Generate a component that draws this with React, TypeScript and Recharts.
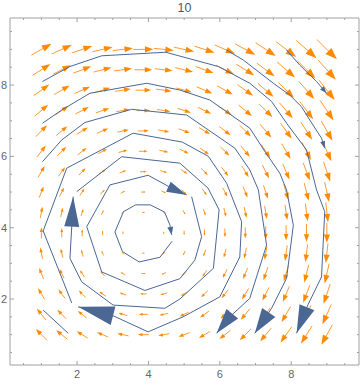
import React from 'react';
import { ComposedChart, XAxis, YAxis, Scatter, Line, ReferenceLine, ReferenceArea } from 'recharts';

const TITLE = '10';
const X_DOMAIN: [number, number] = [0.12, 9.9];
const Y_DOMAIN: [number, number] = [0.15, 9.88];
const MAJOR_TICKS = [2, 4, 6, 8];
const MINOR_TICKS = [0.5, 1, 1.5, 2.5, 3, 3.5, 4.5, 5, 5.5, 6.5, 7, 7.5, 8.5, 9, 9.5];

// vector field sample positions (same along x and y)
const GRID = [1, 1.571, 2.143, 2.714, 3.286, 3.857, 4.429, 5, 5.571, 6.143, 6.714, 7.286, 7.857, 8.429, 9];
// horizontal component of the arrows in each row (rows ordered by y)
const ROW_U = [-2.85, -2.28, -1.71, -1.14, -0.57, 0.01, 0.58, 1.15, 1.72, 2.29, 2.86, 3.43, 4.0, 4.58, 5.15];
// vertical component of the arrows in each column (columns ordered by x)
const COL_V = [2.9, 2.33, 1.76, 1.19, 0.62, 0.04, -0.53, -1.1, -1.67, -2.24, -2.81, -3.39, -3.96, -4.53, -5.1];

// stream lines [x, y]
const LOOP_1 = [[4.66, 3.62], [4.32, 3.17], [3.74, 3.04], [3.27, 3.33], [3.06, 3.88], [3.3, 4.45], [3.64, 4.64], [4.05, 4.64], [4.45, 4.44], [4.6, 4.08], [4.65, 3.8]];
const LOOP_2 = [[5.21, 4.87], [5.49, 3.75], [5.3, 3.09], [4.88, 2.57], [3.9, 2.24], [2.69, 2.76], [2.27, 4.03], [2.92, 5.2], [3.99, 5.47], [4.65, 5.11], [5.07, 4.92]];
const LOOP_3 = [[1.99, 5.01], [3.25, 5.99], [4.88, 5.81], [5.67, 5.11], [5.98, 4.5], [5.82, 2.86], [4.88, 2.0], [4.46, 1.74], [3.01, 1.83], [2.13, 2.48], [1.8, 3.14], [1.85, 4.03], [1.89, 4.87]];
const LOOP_4 = [[1.85, 1.89], [1.05, 3.91], [1.71, 5.67], [3.57, 6.65], [4.95, 6.4], [5.68, 6.0], [6.19, 5.25], [6.61, 4.17], [6.56, 3.18], [6.0, 2.06], [4.97, 1.5], [3.99, 1.08], [3.01, 1.53], [2.03, 1.78]];
const LINE_A3 = [[1.03, 5.85], [1.57, 6.46], [2.22, 6.95], [3.53, 7.32], [5.07, 7.16], [6.42, 6.23], [6.84, 5.62], [7.08, 5.06], [7.31, 3.51], [6.84, 2.02], [6.28, 1.5], [5.91, 1.04]];
const LINE_A2 = [[1.03, 6.93], [1.57, 7.3], [2.36, 7.77], [3.95, 8.05], [4.88, 7.86], [5.72, 7.58], [6.19, 7.25], [6.84, 6.79], [7.28, 6.11], [7.68, 5.53], [7.87, 5.06], [8.06, 4.07], [7.87, 2.58], [7.45, 1.74], [6.98, 1.04]];
const LINE_A1 = [[1.03, 8.1], [1.8, 8.52], [2.69, 8.82], [4.48, 8.92], [5.96, 8.52], [6.84, 8.05], [7.45, 7.54], [7.87, 6.93], [8.43, 6.18], [8.71, 5.06], [8.94, 4.45], [8.85, 2.62], [8.47, 1.84], [8.15, 1.04]];
const LINE_P = [[6.19, 8.98], [6.66, 8.7], [7.5, 8.05], [7.96, 7.72], [8.29, 7.39], [8.52, 7.02], [8.85, 6.51], [8.94, 6.23]];
const LINE_Q = [[7.87, 8.98], [8.24, 8.56], [8.71, 8.1], [8.99, 7.77]];
const LINE_S = [[1.75, 1.04], [1.05, 1.69]];

// styles
const BLUE = '#4b6794';
const ORANGE_HEAD = '#ff8a00';
const ORANGE_SHAFT = '#ff9a30';
const FRAME = '#a0a0a0';
const LABEL = '#666666';
const ARROW_SCALE = 3.9; // px per field unit
const PX_PER_UNIT = 35.7;

const STREAMS = [
  { id: 'l1', pts: LOOP_1, head: [8, 6] },
  { id: 'l2', pts: LOOP_2, head: [20, 11] },
  { id: 'l3', pts: LOOP_3, head: [30, 15] },
  { id: 'l4', pts: LOOP_4, head: [36, 19] },
  { id: 'a3', pts: LINE_A3, head: [25, 15] },
  { id: 'a2', pts: LINE_A2, head: [25, 16] },
  { id: 'a1', pts: LINE_A1, head: [28, 16] },
  { id: 'p', pts: LINE_P, head: [7, 5] },
  { id: 'q', pts: LINE_Q, head: [7, 5] },
  { id: 's', pts: LINE_S, head: [0, 0] },
];

const fieldData = GRID.flatMap((y, j) => GRID.map((x, i) => ({ x, y, u: ROW_U[j], v: COL_V[i] })));

const FieldArrow = (props: any) => {
  const { cx, cy, payload } = props;
  if (cx == null || cy == null || !payload) return <g />;
  const u = payload.u;
  const v = payload.v;
  const mag = Math.hypot(u, v);
  const L = mag * ARROW_SCALE;
  if (L < 0.6) return <g />;
  const ux = u / mag;
  const uy = -v / mag;
  const x0 = cx - (ux * L) / 2;
  const y0 = cy - (uy * L) / 2;
  const x1 = cx + (ux * L) / 2;
  const y1 = cy + (uy * L) / 2;
  const hl = L * 0.42;
  const hw = L * 0.15;
  const bx = x1 - ux * hl;
  const by = y1 - uy * hl;
  const nx = -uy;
  const ny = ux;
  return (
    <g>
      <line x1={x0} y1={y0} x2={bx + ux * 1} y2={by + uy * 1} stroke={ORANGE_SHAFT} strokeWidth={1} />
      <polygon points={`${x1},${y1} ${bx + nx * hw},${by + ny * hw} ${bx - nx * hw},${by - ny * hw}`} fill={ORANGE_HEAD} />
    </g>
  );
};

const makeHead = (pts: number[][], len: number, width: number) => (props: any) => {
  const { cx, cy, index } = props;
  const n = pts.length;
  if (index !== n - 1 || len === 0 || cx == null) return <g key={`d-${index}`} />;
  const [tx, ty] = pts[n - 1];
  const [px, py] = pts[n - 2];
  let dx = tx - px;
  let dy = -(ty - py);
  const m = Math.hypot(dx, dy) || 1;
  dx /= m;
  dy /= m;
  const bx = cx - dx * len;
  const by = cy - dy * len;
  const nx = -dy;
  const ny = dx;
  const hw = width / 2;
  return (
    <polygon
      key={`d-${index}`}
      points={`${cx},${cy} ${bx + nx * hw},${by + ny * hw} ${bx - nx * hw},${by - ny * hw}`}
      fill={BLUE}
    />
  );
};

const MAJOR_LEN = 4 / PX_PER_UNIT;
const MINOR_LEN = 2 / PX_PER_UNIT;

const tickSegments = () => {
  const out: any[] = [];
  const [x0, x1] = X_DOMAIN;
  const [y0, y1] = Y_DOMAIN;
  const add = (t: number, len: number, key: string) => {
    out.push({ key: `b${key}`, seg: [{ x: t, y: y0 }, { x: t, y: y0 + len }] });
    out.push({ key: `t${key}`, seg: [{ x: t, y: y1 }, { x: t, y: y1 - len }] });
    out.push({ key: `l${key}`, seg: [{ x: x0, y: t }, { x: x0 + len, y: t }] });
    out.push({ key: `r${key}`, seg: [{ x: x1, y: t }, { x: x1 - len, y: t }] });
  };
  MAJOR_TICKS.forEach((t) => add(t, MAJOR_LEN, `M${t}`));
  MINOR_TICKS.forEach((t) => add(t, MINOR_LEN, `m${t}`));
  return out;
};

export default function App() {
  const ticks = tickSegments();
  return (
    <div style={{ position: 'absolute', left: 0, top: 0, width: 360, height: 384, background: '#fff' }}>
      <div
        style={{
          position: 'absolute',
          left: 10,
          top: 0,
          width: 349,
          height: 16,
          lineHeight: '16px',
          textAlign: 'center',
          fontFamily: 'Liberation Sans, Arial, sans-serif',
          fontSize: 12.5,
          color: '#555',
        }}
      >
        {TITLE}
      </div>
      <ComposedChart width={360} height={384} margin={{ top: 18, right: 1, bottom: 0, left: 0 }}>
        <XAxis
          dataKey="x"
          type="number"
          domain={X_DOMAIN}
          allowDataOverflow
          ticks={MAJOR_TICKS}
          interval={0}
          height={19}
          tickLine={false}
          axisLine={false}
          tickSize={0}
          tickMargin={5}
          tick={{ fill: LABEL, fontSize: 11, fontFamily: 'Liberation Sans, Arial, sans-serif' }}
        />
        <YAxis
          type="number"
          domain={Y_DOMAIN}
          allowDataOverflow
          ticks={MAJOR_TICKS}
          interval={0}
          width={10}
          tickLine={false}
          axisLine={false}
          tickSize={0}
          tickMargin={3}
          tick={{ fill: LABEL, fontSize: 11, fontFamily: 'Liberation Sans, Arial, sans-serif' }}
        />
        <ReferenceArea
          x1={X_DOMAIN[0]}
          x2={X_DOMAIN[1]}
          y1={Y_DOMAIN[0]}
          y2={Y_DOMAIN[1]}
          fill="none"
          fillOpacity={0}
          stroke={FRAME}
          strokeWidth={1}
          ifOverflow="visible"
        />
        {ticks.map((t) => (
          <ReferenceLine key={t.key} segment={t.seg} stroke={FRAME} strokeWidth={1} ifOverflow="visible" />
        ))}
        <Scatter
          data={fieldData}
          dataKey="y"
          shape={FieldArrow}
          isAnimationActive={false}
          zIndex={600}
        />
        {STREAMS.map((s) => (
          <Line
            key={s.id}
            data={s.pts.map(([x, y]) => ({ x, y }))}
            dataKey="y"
            type="linear"
            stroke={BLUE}
            strokeWidth={1}
            dot={makeHead(s.pts, s.head[0], s.head[1])}
            activeDot={false}
            isAnimationActive={false}
            zIndex={700}
          />
        ))}
      </ComposedChart>
    </div>
  );
}
